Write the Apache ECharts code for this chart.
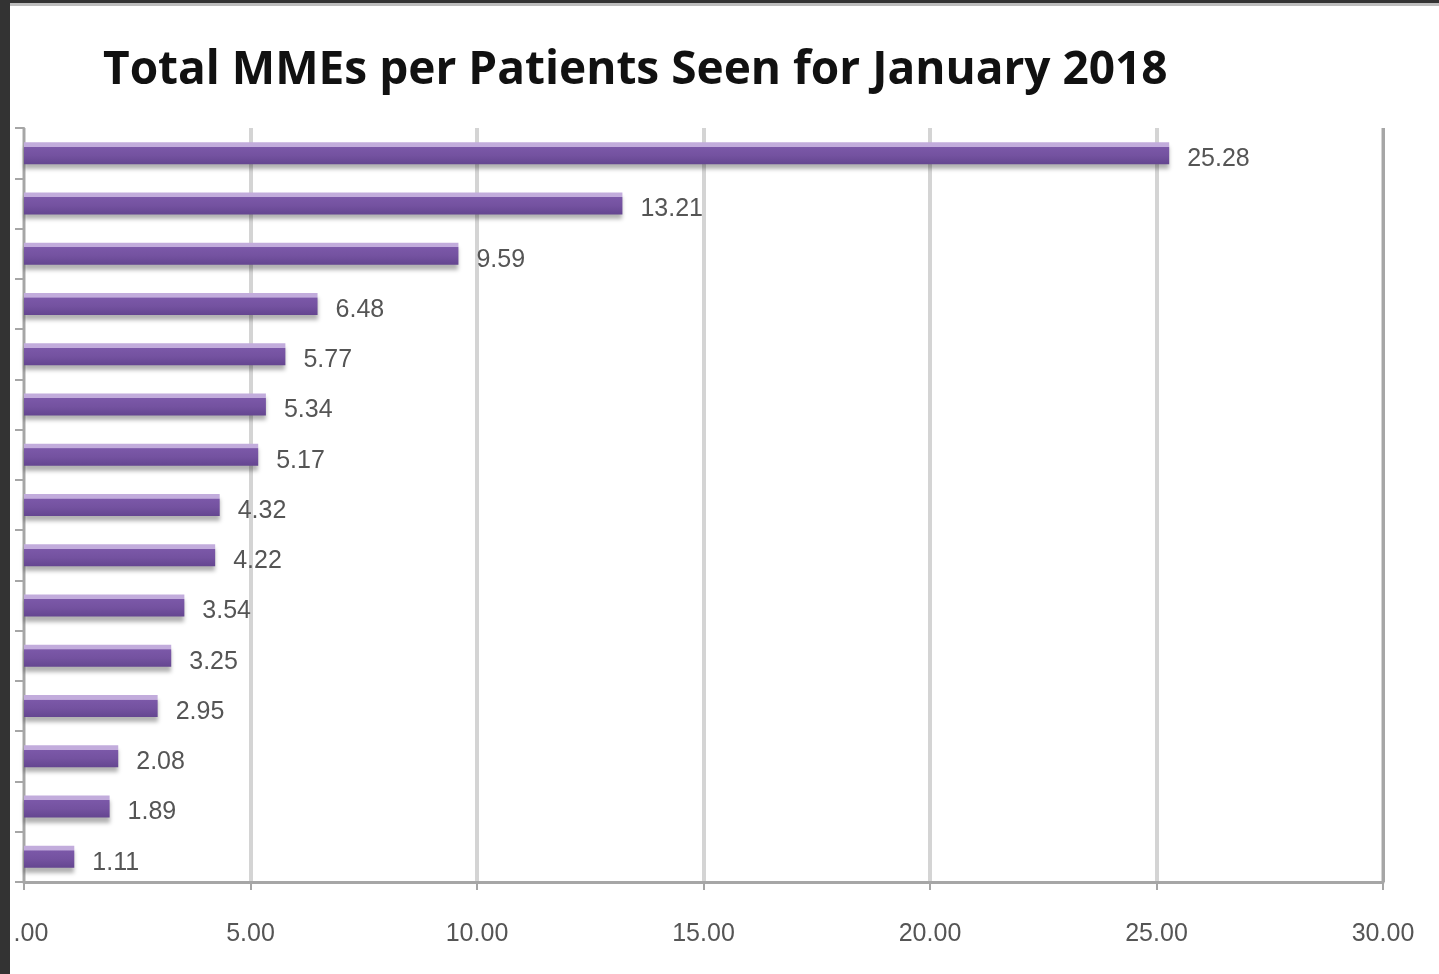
<!DOCTYPE html>
<html>
<head>
<meta charset="utf-8">
<script src="https://cdn.jsdelivr.net/npm/echarts@6/dist/echarts.min.js"></script>
<style>
  html, body { margin: 0; padding: 0; background: #fff; }
  body { width: 1439px; height: 974px; box-sizing: border-box; border-left: 10px solid #333; border-top: 3px solid #333; }
  #frame { width: 1429px; height: 971px; border-top: 3px solid #bdbdbd; box-sizing: border-box; }
  #chart { width: 1429px; height: 968px; }
</style>
</head>
<body>
<div id="frame"><div id="chart"></div></div>
<script>
// rows top to bottom, no category labels shown in the original
const categories = ['r1', 'r2', 'r3', 'r4', 'r5', 'r6', 'r7', 'r8', 'r9', 'r10', 'r11', 'r12', 'r13', 'r14', 'r15']
const mmeValues = [25.28, 13.21, 9.59, 6.48, 5.77, 5.34, 5.17, 4.32, 4.22, 3.54, 3.25, 2.95, 2.08, 1.89, 1.11]

const chart = echarts.init(document.getElementById('chart'), null, { renderer: 'canvas' })

const barColor = new echarts.graphic.LinearGradient(0, 0, 0, 1, [
  { offset: 0, color: '#c2acdc' },
  { offset: 0.2, color: '#c2acdc' },
  { offset: 0.22, color: '#7b58a8' },
  { offset: 0.6, color: '#7452a0' },
  { offset: 1, color: '#644590' },
])

const option = {
  animation: false,
  title: {
    text: 'Total MMEs per Patients Seen for January 2018',
    left: 88,
    top: 37,
    textStyle: { fontFamily: 'Open Sans', fontWeight: 'bold', fontSize: 46, color: '#111' },
  },
  grid: { left: 14, right: 56, top: 122, bottom: 92, outerBoundsMode: 'none' },
  xAxis: {
    type: 'value',
    min: 0,
    max: 30,
    interval: 5,
    axisLine: { show: true, lineStyle: { color: '#a6a6a6', width: 3 } },
    axisTick: { show: true, length: 8, lineStyle: { color: '#a6a6a6', width: 2 } },
    axisLabel: {
      margin: 40,
      color: '#555',
      fontFamily: 'Liberation Sans',
      fontSize: 25,
      formatter: v => (v === 0 ? '{z|.00}' : v.toFixed(2)),
      rich: {
        z: { padding: [0, 0, 0, 14], color: '#555', fontFamily: 'Liberation Sans', fontSize: 25 },
      },
    },
    splitLine: { show: true, lineStyle: { color: '#d4d4d4', width: 4 } },
  },
  yAxis: {
    type: 'category',
    data: categories,
    inverse: true,
    axisLine: { show: true, lineStyle: { color: '#a6a6a6', width: 2 } },
    axisTick: { show: true, length: 9, lineStyle: { color: '#a6a6a6', width: 2 } },
    axisLabel: { show: false },
  },
  series: [{
    type: 'bar',
    data: mmeValues,
    barWidth: 22,
    itemStyle: {
      color: barColor,
      shadowColor: 'rgba(0,0,0,0.3)',
      shadowBlur: 4,
      shadowOffsetY: 5,
    },
    label: {
      show: true,
      position: 'right',
      distance: 18,
      offset: [0, 6],
      color: '#555',
      fontFamily: 'Liberation Sans',
      fontSize: 25,
      formatter: p => p.value.toFixed(2),
    },
    markLine: {
      silent: true,
      symbol: 'none',
      label: { show: false },
      lineStyle: { color: '#a6a6a6', width: 3, type: 'solid' },
      data: [{ xAxis: 30 }],
    },
  }],
}

chart.setOption(option)
window.addEventListener('resize', () => chart.resize())
</script>
</body>
</html>
